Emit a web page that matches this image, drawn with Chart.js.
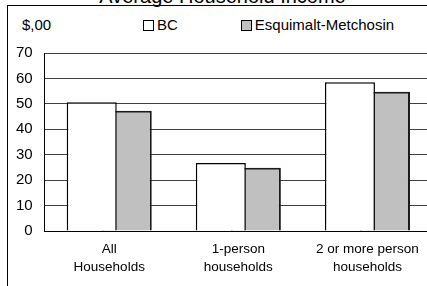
<!DOCTYPE html>
<html>
<head>
<meta charset="utf-8">
<script src="https://cdn.jsdelivr.net/npm/chart.js@4/dist/chart.umd.min.js"></script>
<style>
  html, body { margin: 0; padding: 0; background: #fff; overflow: hidden; }
  body { width: 427px; height: 286px; position: relative; font-family: "Liberation Sans", Arial, sans-serif; color: #000; }
  #chart { position: absolute; left: 0; top: 0; }
  #frame { position: absolute; left: 7px; top: 5px; width: 440px; height: 300px; border-top: 1px solid #000; border-left: 1px solid #000; }
  #title { position: absolute; left: 0; top: -14px; width: 445px; text-align: center; font-size: 20px; line-height: 20px; white-space: nowrap; }
  #unit { position: absolute; left: 22px; top: 16px; font-size: 15px; line-height: 18px; }
  #legend { position: absolute; left: 143px; top: 16px; display: flex; align-items: center; font-size: 15px; line-height: 18px; white-space: nowrap; }
  .item { display: flex; align-items: center; margin-right: 63px; }
  .swatch { width: 11px; height: 11px; box-sizing: border-box; border: 1px solid #000; margin-right: 3px; }
</style>
</head>
<body>
<div id="frame"></div>
<div id="title">Average Household Income</div>
<div id="unit">$,00</div>
<div id="legend"></div>
<canvas id="chart" width="440" height="286"></canvas>
<script>
// household types along the x axis
const categories = [["All", "Households"], ["1-person", "households"], ["2 or more person", "households"]];
const seriesNames = ["BC", "Esquimalt-Metchosin"];
// average income, hundreds of dollars
const bcValues = [50.6, 26.8, 58.5];
const esquimaltValues = [47.3, 24.9, 54.8];
const yTicks = [0, 10, 20, 30, 40, 50, 60, 70];

const fills = ["#ffffff", "#c0c0c0"];

const fontFamily = '"Liberation Sans", Arial, sans-serif';

const datasets = [bcValues, esquimaltValues].map((values, i) => ({
  label: seriesNames[i],
  data: values,
  backgroundColor: fills[i],
  borderColor: i === 0 ? "#000" : "#1a1a1a",
  borderWidth: i === 0 ? 1.5 : 2,
  // bars overlap like the original (bar wider than its slot)
  categoryPercentage: 0.5426,
  barPercentage: 1.4286,
}));

// legend built from the same series
const legend = document.getElementById("legend");
seriesNames.forEach((name, i) => {
  const item = document.createElement("div");
  item.className = "item";
  const sw = document.createElement("span");
  sw.className = "swatch";
  sw.style.background = fills[i];
  const txt = document.createElement("span");
  txt.textContent = name;
  item.appendChild(sw);
  item.appendChild(txt);
  legend.appendChild(item);
});

new Chart(document.getElementById("chart"), {
  type: "bar",
  data: { labels: categories, datasets: datasets },
  options: {
    responsive: false,
    animation: false,
    devicePixelRatio: 1,
    // plot runs past the right edge, as in the cropped original
    layout: { padding: { left: 4, top: 53, right: 8, bottom: 0 } },
    plugins: {
      legend: { display: false },
      tooltip: { enabled: false },
    },
    scales: {
      x: {
        grid: { display: false, drawTicks: false },
        border: { color: "#000", width: 1 },
        ticks: {
          color: "#000",
          padding: 9.5,
          maxRotation: 0,
          autoSkip: false,
          font: { family: fontFamily, size: 13.5, lineHeight: 1.33 },
        },
      },
      y: {
        min: 0,
        max: 70,
        afterBuildTicks: (axis) => {
          axis.ticks = yTicks.map((v) => ({ value: v }));
        },
        grid: { color: "#404040", lineWidth: 1, drawTicks: false },
        border: { color: "#000", width: 1 },
        ticks: {
          color: "#000",
          padding: 12,
          font: { family: fontFamily, size: 15 },
        },
      },
    },
  },
});
</script>
</body>
</html>
